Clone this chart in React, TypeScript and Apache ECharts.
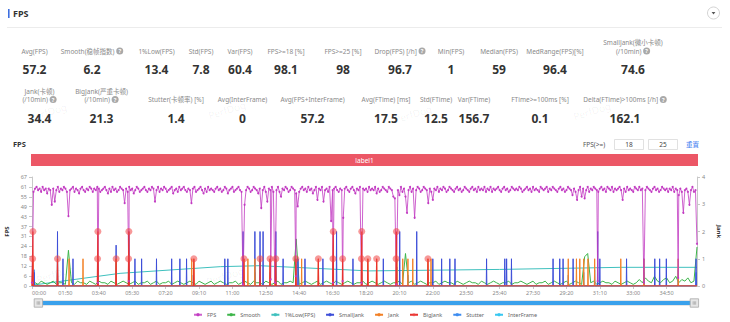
import React, { useEffect, useRef } from "react";
import * as echarts from "echarts";

// ---------- data ----------
const X_MAX = 2190; // seconds
const X_STEP = 110; // seconds between time labels
const FPS_STEP = 5; // seconds between FPS samples
const SMOOTH_STEP = 10; // seconds between Smooth samples

const FPS = [
  2, 58, 60, 61, 59, 60, 58, 61, 59, 60, 57, 60, 59, 50, 60, 52, 59, 61, 58, 60,
  59, 61, 60, 58, 43, 59, 60, 61, 58, 60, 59, 57, 60, 61, 59, 58, 60, 59, 61, 60,
  58, 60, 59, 61, 60, 58, 59, 60, 61, 59, 57, 60, 58, 61, 59, 60, 58, 59, 61, 60,
  59, 51, 60, 58, 61, 59, 60, 57, 59, 61, 60, 58, 59, 60, 61, 59, 58, 60, 59, 61,
  60, 52, 59, 61, 58, 60, 59, 61, 60, 58, 59, 60, 61, 57, 59, 60, 58, 61, 59, 60,
  61, 59, 58, 60, 59, 51, 60, 61, 58, 59, 60, 61, 59, 57, 60, 58, 61, 59, 60, 59,
  58, 60, 61, 59, 60, 58, 59, 61, 60, 57, 59, 60, 61, 58, 59, 60, 61, 59, 58, 60,
  50, 59, 61, 60, 58, 59, 61, 60, 59, 57, 60, 48, 59, 61, 58, 52, 60, 59, 61, 58,
  60, 59, 61, 58, 55, 60, 59, 61, 60, 58, 59, 61, 60, 59, 57, 49, 58, 60, 61, 59,
  60, 58, 61, 59, 60, 57, 59, 61, 53, 60, 59, 61, 52, 59, 60, 58, 61, 40, 59, 60,
  61, 59, 58, 60, 59, 42, 60, 61, 59, 58, 60, 61, 59, 57, 60, 59, 61, 58, 60, 59,
  60, 58, 61, 59, 60, 59, 61, 57, 60, 58, 59, 61, 60, 59, 58, 61, 60, 59, 55, 54,
  60, 59, 56, 61, 58, 60, 55, 45, 59, 61, 58, 60, 42, 59, 61, 60, 58, 59, 61, 60,
  59, 51, 60, 58, 53, 60, 59, 61, 58, 60, 59, 61, 60, 58, 59, 61, 60, 59, 58, 60,
  61, 59, 60, 58, 59, 61, 60, 59, 58, 60, 61, 59, 60, 58, 61, 59, 60, 59, 61, 58,
  60, 59, 61, 58, 60, 59, 60, 61, 59, 58, 60, 61, 59, 60, 58, 59, 61, 60, 59, 60,
  59, 61, 60, 58, 59, 60, 61, 59, 60, 58, 61, 59, 60, 59, 58, 61, 60, 59, 60, 61,
  58, 60, 59, 61, 60, 59, 58, 60, 61, 59, 60, 58, 59, 61, 60, 59, 56, 60, 58, 53,
  59, 61, 55, 60, 54, 59, 61, 58, 60, 59, 61, 60, 59, 58, 60, 61, 59, 60, 58, 61,
  60, 59, 61, 58, 60, 59, 60, 61, 59, 53, 60, 58, 61, 59, 60, 59, 58, 61, 60, 59,
  61, 59, 60, 58, 59, 61, 60, 59, 58, 60, 61, 59, 60, 58, 59, 61, 60, 59, 60, 58,
  60, 59, 61, 58, 60, 59, 56, 60, 58, 45, 59, 60, 58, 50, 59, 61, 58, 59, 26,
];

// deep FPS drops [second, fps]
const FPS_DROPS = [
  [217, 2], [319, 3], [695, 1], [786, 4], [800, 2], [869, 6], [991, 2],
  [1023, 3], [1085, 2], [1200, 1], [1863, 3], [2015, 2], [2128, 5],
];

const SMOOTH = [
  0, 2, 1, 3, 2, 1, 2, 3, 1, 2, 2, 1, 22, 2, 1, 3, 2, 2, 1, 3,
  2, 1, 3, 2, 2, 1, 3, 2, 1, 2, 3, 2, 1, 2, 3, 1, 2, 2, 3, 1,
  2, 3, 1, 2, 2, 3, 1, 2, 3, 2, 1, 2, 3, 2, 1, 3, 2, 1, 2, 3,
  1, 2, 3, 2, 1, 2, 2, 3, 1, 2, 3, 2, 1, 3, 2, 2, 1, 3, 2, 1,
  2, 3, 1, 2, 2, 3, 2, 29, 1, 2, 3, 2, 1, 2, 3, 1, 2, 3, 2, 1,
  3, 2, 1, 2, 3, 2, 1, 2, 2, 3, 1, 2, 3, 2, 1, 2, 3, 2, 1, 2,
  2, 3, 1, 20, 2, 3, 1, 2, 3, 2, 1, 2, 2, 3, 1, 2, 3, 2, 2, 1,
  3, 2, 1, 2, 3, 2, 2, 1, 3, 2, 1, 2, 3, 2, 1, 2, 2, 3, 1, 2,
  2, 3, 2, 1, 2, 3, 1, 2, 2, 3, 1, 2, 3, 2, 1, 2, 3, 1, 2, 3,
  2, 1, 18, 20, 2, 3, 1, 2, 3, 2, 2, 1, 3, 2, 1, 2, 3, 2, 1, 2,
  4, 2, 5, 3, 2, 6, 3, 2, 4, 5, 2, 3, 6, 2, 4, 3, 5, 2, 3, 24,
];

const LOW1 = [
  [0, 0.5], [290, 7.8], [620, 11.9], [750, 12.5], [1110, 9.3],
  [1540, 10.2], [1940, 11.5], [2190, 11.5],
];

const SMALL_JANK = [
  [7, 0.5], [84, 2], [102, 1], [135, 1], [217, 1], [277, 1.5], [319, 2], [339, 1],
  [361, 1], [410, 1], [460, 1], [487, 1], [509, 1], [635, 1], [645, 1], [695, 2],
  [734, 2], [751, 2], [761, 2], [803, 2], [827, 1], [876, 1], [899, 1], [958, 1],
  [1003, 2], [1057, 1], [1157, 1], [1211, 2], [1267, 2], [1320, 1], [1349, 1],
  [1376, 1], [1393, 1], [1497, 1], [1557, 1], [1563, 1], [1579, 1], [1716, 1],
  [1738, 1], [1749, 1], [1782, 1], [1863, 2], [1870, 1], [1958, 1], [2015, 1],
  [2051, 1], [2067, 1], [2089, 1], [2187, 1],
];

const JANK = [
  [3, 1], [84, 1], [122, 1], [168, 1], [217, 1], [277, 1], [319, 1], [526, 1],
  [533, 1], [698, 1], [711, 1], [734, 1], [784, 1], [800, 1], [869, 1], [888, 1],
  [943, 1], [992, 1], [1086, 1], [1106, 1], [1135, 1], [1202, 1], [1221, 1],
  [1238, 1], [1254, 1], [1304, 1], [1314, 1], [1766, 1], [1793, 1], [1804, 1],
  [1817, 1], [1831, 1], [1853, 1], [1939, 1], [2015, 1], [2128, 1],
];

const BIG_JANK = [
  [2, 1], [3, 2], [84, 1], [216, 1], [217, 2], [277, 1], [318, 1], [319, 2],
  [533, 1], [698, 1], [751, 1], [784, 1], [803, 1], [869, 1], [943, 1], [991, 1],
  [992, 2], [1023, 1], [1085, 1], [1086, 2], [1106, 1], [1135, 1], [1199, 1],
  [1200, 2], [1304, 1],
];

const STUTTER = [
  [7, 0.6], [84, 0.5], [217, 0.7], [319, 0.6], [526, 0.4], [695, 0.6], [734, 0.5],
  [784, 0.5], [869, 0.8], [992, 0.6], [1086, 0.5], [1202, 0.7], [1238, 0.4],
  [1304, 0.5], [1766, 0.4], [1817, 0.5], [1853, 0.6], [2015, 0.5], [2128, 0.6],
  [2187, 0.5],
];

const INTER_FRAME = [[0, 0], [2190, 0]];

const LEGEND = ["FPS", "Smooth", "1%Low(FPS)", "SmallJank", "Jank", "BigJank", "Stutter", "InterFrame"];

const ROW1_LABELS = [
  ["Avg(FPS)"], ["Smooth(稳帧指数)"], ["1%Low(FPS)"], ["Std(FPS)"], ["Var(FPS)"],
  ["FPS>=18 [%]"], ["FPS>=25 [%]"], ["Drop(FPS) [/h]"], ["Min(FPS)"], ["Median(FPS)"],
  ["MedRange(FPS)[%]"], ["SmallJank(微小卡顿)", "(/10min)"],
];
const ROW1_HELP = [false, true, false, false, false, false, false, true, false, false, false, true];
const ROW1_VALUES = ["57.2", "6.2", "13.4", "7.8", "60.4", "98.1", "98", "96.7", "1", "59", "96.4", "74.6"];

const ROW2_LABELS = [
  ["Jank(卡顿)", "(/10min)"], ["BigJank(严重卡顿)", "(/10min)"], ["Stutter(卡顿率) [%]"],
  ["Avg(InterFrame)"], ["Avg(FPS+InterFrame)"], ["Avg(FTime) [ms]"], ["Std(FTime)"],
  ["Var(FTime)"], ["FTime>=100ms [%]"], ["Delta(FTime)>100ms [/h]"],
];
const ROW2_HELP = [true, true, false, false, false, false, false, false, false, true];
const ROW2_VALUES = ["34.4", "21.3", "1.4", "0", "57.2", "17.5", "12.5", "156.7", "0.1", "162.1"];

const FPS_THRESHOLDS = ["18", "25"];

// ---------- layout ----------
const ROW1_X = [34.5, 92, 156.5, 201, 240, 286, 343, 400, 451, 499, 555, 633];
const ROW2_X = [39.5, 101.5, 176, 242.5, 312.5, 386, 436, 474, 540, 625];
const FONT = "'Noto Sans', 'Noto Sans CJK SC', sans-serif";

const C = {
  fps: "#C23BC2",
  smooth: "#3DB54A",
  low: "#3FC0BE",
  small: "#3E4FD8",
  jank: "#F28026",
  big: "#E8322E",
  stutter: "#3D8CF0",
  inter: "#38C7F0",
};

function pad(n: number) {
  return n < 10 ? "0" + n : "" + n;
}
function fmtTime(v: number) {
  const m = Math.floor(v / 60);
  const s = Math.round(v % 60);
  return pad(m) + ":" + pad(s);
}

function sampled(values: number[], step: number, extra: number[][] = []) {
  const map = new Map<number, number>();
  values.forEach((v, i) => map.set(i * step, v));
  extra.forEach(([t, v]) => map.set(t, v));
  return Array.from(map.entries()).sort((a, b) => a[0] - b[0]).map(([t, v]) => [t, v]);
}

function spikes(events: number[][]) {
  const val = new Map<number, number>();
  events.forEach(([t, v]) => val.set(t, v));
  const times = new Set<number>([0, X_MAX]);
  events.forEach(([t]) => {
    times.add(Math.max(0, t - 1));
    times.add(t);
    times.add(Math.min(X_MAX, t + 1));
  });
  return Array.from(times).sort((a, b) => a - b).map((t) => [t, val.get(t) ?? 0]);
}

function helpRich() {
  return {
    q: {
      backgroundColor: "#a9a9a9",
      borderRadius: 3.5,
      width: 7,
      height: 7,
      lineHeight: 7,
      align: "center",
      verticalAlign: "middle",
      fill: "#fff",
      color: "#fff",
      fontSize: 5.5,
      fontWeight: "bold",
      fontFamily: FONT,
    },
  };
}

function statGraphics(labels: string[][], help: boolean[], values: string[], xs: number[], labelY: number, valueY: number) {
  const out: any[] = [];
  labels.forEach((lines, i) => {
    lines.forEach((line, j) => {
      const isLast = j === lines.length - 1;
      const y = labelY - (lines.length - 1 - j) * 8.5;
      out.push({
        type: "text",
        x: xs[i],
        y,
        silent: true,
        style: {
          text: line + (help[i] && isLast ? " {q|?}" : ""),
          fill: "#8a8a8a",
          fontSize: 6.5,
          fontFamily: FONT,
          align: "center",
          verticalAlign: "middle",
          textAlign: "center",
          textVerticalAlign: "middle",
          rich: helpRich(),
        },
      });
    });
    out.push({
      type: "text",
      x: xs[i],
      y: valueY,
      silent: true,
      style: {
        text: values[i],
        fill: "#333",
        fontSize: 12,
        fontWeight: "bold",
        fontFamily: FONT,
        align: "center",
        verticalAlign: "middle",
        textAlign: "center",
        textVerticalAlign: "middle",
      },
    });
  });
  return out;
}

function buildOption() {
  const graphics: any[] = [];
  // watermarks
  [[48, 112], [227, 110], [413, 114], [592, 111], [55, 274], [225, 276]].forEach(([x, y]) => {
    graphics.push({
      type: "text", x, y, rotation: 0.3, silent: true, z: -10,
      style: { text: "PerfDog", fill: "rgba(0,0,0,0.05)", fontSize: 10, fontFamily: FONT, align: "center", verticalAlign: "middle", textAlign: "center", textVerticalAlign: "middle" },
    });
  });
  // header
  graphics.push({ type: "rect", silent: true, shape: { x: 8, y: 9, width: 1.6, height: 9 }, style: { fill: "#3E6FE0" } });
  graphics.push({
    type: "text", x: 13, y: 13.5, silent: true,
    style: { text: "FPS", fill: "#333", fontSize: 9, fontWeight: "bold", fontFamily: FONT, align: "left", verticalAlign: "middle", textAlign: "left", textVerticalAlign: "middle" },
  });
  graphics.push({ type: "line", silent: true, shape: { x1: 7, y1: 27.5, x2: 722, y2: 27.5 }, style: { stroke: "#ececec", lineWidth: 1 } });
  graphics.push({ type: "circle", silent: true, shape: { cx: 713.5, cy: 13, r: 6 }, style: { fill: "#fff", stroke: "#c8c8c8", lineWidth: 0.8 } });
  graphics.push({ type: "polygon", silent: true, shape: { points: [[711.6, 12], [715.4, 12], [713.5, 14.4]] }, style: { fill: "#555" } });

  graphics.push(...statGraphics(ROW1_LABELS, ROW1_HELP, ROW1_VALUES, ROW1_X, 51, 69));
  graphics.push(...statGraphics(ROW2_LABELS, ROW2_HELP, ROW2_VALUES, ROW2_X, 99.5, 118));

  // chart header
  graphics.push({
    type: "text", x: 13, y: 144, silent: true,
    style: { text: "FPS", fill: "#333", fontSize: 7.5, fontWeight: "bold", fontFamily: FONT, align: "left", verticalAlign: "middle", textAlign: "left", textVerticalAlign: "middle" },
  });
  graphics.push({
    type: "text", x: 583, y: 144, silent: true,
    style: { text: "FPS(>=)", fill: "#555", fontSize: 6.5, fontFamily: FONT, align: "left", verticalAlign: "middle", textAlign: "left", textVerticalAlign: "middle" },
  });
  [614.5, 648.5].forEach((bx, i) => {
    graphics.push({ type: "rect", silent: true, shape: { x: bx, y: 139.5, width: 29, height: 10 }, style: { fill: "#fff", stroke: "#d9d9d9", lineWidth: 0.8 } });
    graphics.push({
      type: "text", x: bx + 14.5, y: 144.5, silent: true,
      style: { text: FPS_THRESHOLDS[i], fill: "#444", fontSize: 6.5, fontFamily: FONT, align: "center", verticalAlign: "middle", textAlign: "center", textVerticalAlign: "middle" },
    });
  });
  graphics.push({
    type: "text", x: 692.5, y: 144, silent: true,
    style: { text: "重置", fill: "#3B7BF0", fontSize: 6.5, fontFamily: FONT, align: "center", verticalAlign: "middle", textAlign: "center", textVerticalAlign: "middle" },
  });
  graphics.push({ type: "rect", silent: true, shape: { x: 31, y: 154, width: 667, height: 12 }, style: { fill: "#EC5766" } });
  graphics.push({
    type: "text", x: 364.5, y: 160, silent: true,
    style: { text: "label1", fill: "#fff", fontSize: 6.5, fontFamily: FONT, align: "center", verticalAlign: "middle", textAlign: "center", textVerticalAlign: "middle" },
  });

  const axisLabel = { fontSize: 5.5, color: "#888", fontFamily: FONT };
  const lineBase = { type: "line", silent: true, emphasis: { disabled: true }, animation: false };

  return {
    animation: false,
    textStyle: { fontFamily: FONT },
    graphic: graphics,
    grid: { left: 32, right: 33, top: 177, height: 109, containLabel: false, outerBoundsMode: "none" },
    legend: {
      data: LEGEND,
      top: 307,
      left: "center",
      itemWidth: 8,
      itemHeight: 4,
      itemGap: 10,
      textStyle: { fontSize: 5.5, color: "#666", fontFamily: FONT },
    },
    dataZoom: [
      {
        type: "slider",
        xAxisIndex: 0,
        start: 0,
        end: 100,
        left: 36,
        right: 36,
        top: 300,
        height: 6,
        filterMode: "none",
        showDetail: false,
        showDataShadow: false,
        brushSelect: false,
        moveHandleSize: 0,
        fillerColor: "#3AA1EC",
        backgroundColor: "#fff",
        borderColor: "#e6e6e6",
        handleIcon: "path://M0,0H10V10H0ZM3.5,3V7M5,3V7M6.5,3V7",
        handleSize: "140%",
        handleStyle: { color: "#e6e6e6", borderColor: "#a8a8a8", borderWidth: 0.8 },
      },
    ],
    xAxis: {
      type: "value",
      min: 0,
      max: X_MAX,
      interval: X_STEP,
      axisLine: { show: true, onZero: false, lineStyle: { color: "#c8c8c8" } },
      axisTick: { show: true, length: 3, lineStyle: { color: "#c8c8c8" } },
      axisLabel: { ...axisLabel, margin: 4, showMaxLabel: false, alignMinLabel: "left", formatter: fmtTime },
      splitLine: { show: false },
    },
    yAxis: [
      {
        type: "value",
        min: 0,
        max: 67.1,
        interval: 6.1,
        name: "FPS",
        nameLocation: "middle",
        nameGap: 16,
        nameTextStyle: { fontSize: 6, fontWeight: "bold", color: "#333", fontFamily: FONT },
        axisLine: { show: true, lineStyle: { color: "#c8c8c8" } },
        axisTick: { show: true, length: 3, lineStyle: { color: "#c8c8c8" } },
        axisLabel: { ...axisLabel, margin: 5, formatter: (v: number) => String(Math.round(v)) },
        splitLine: { show: false },
      },
      {
        type: "value",
        min: 0,
        max: 4,
        interval: 1,
        position: "right",
        name: "Jank",
        nameLocation: "middle",
        nameGap: 14,
        nameRotate: -90,
        nameTextStyle: { fontSize: 6, fontWeight: "bold", color: "#333", fontFamily: FONT },
        axisLine: { show: true, lineStyle: { color: "#c8c8c8" } },
        axisTick: { show: true, length: 3, lineStyle: { color: "#c8c8c8" } },
        axisLabel: { ...axisLabel, margin: 5 },
        splitLine: { show: false },
      },
    ],
    series: [
      { ...lineBase, name: "InterFrame", yAxisIndex: 1, data: INTER_FRAME, symbol: "none", color: C.inter, lineStyle: { width: 1, color: C.inter } },
      { ...lineBase, name: "1%Low(FPS)", yAxisIndex: 0, data: LOW1, symbol: "none", color: C.low, lineStyle: { width: 1, color: C.low } },
      { ...lineBase, name: "Smooth", yAxisIndex: 0, data: sampled(SMOOTH, SMOOTH_STEP), symbol: "none", color: C.smooth, lineStyle: { width: 1, color: C.smooth } },
      { ...lineBase, name: "Stutter", yAxisIndex: 1, data: spikes(STUTTER), symbol: "none", color: C.stutter, lineStyle: { width: 1, color: C.stutter } },
      { ...lineBase, name: "SmallJank", yAxisIndex: 1, data: spikes(SMALL_JANK), symbol: "none", color: C.small, lineStyle: { width: 1, color: C.small } },
      { ...lineBase, name: "Jank", yAxisIndex: 1, data: spikes(JANK), symbol: "none", color: C.jank, lineStyle: { width: 1, color: C.jank } },
      {
        ...lineBase, name: "FPS", yAxisIndex: 0, data: sampled(FPS, FPS_STEP, FPS_DROPS), symbol: "circle", symbolSize: 2, showSymbol: true,
        color: C.fps, itemStyle: { color: C.fps }, lineStyle: { width: 1, color: C.fps, opacity: 0.8 },
      },
      {
        ...lineBase, name: "BigJank", yAxisIndex: 1, data: spikes(BIG_JANK), symbol: "circle", showSymbol: true,
        symbolSize: (v: number[]) => (v[1] > 0 ? 7 : 0),
        color: C.big, itemStyle: { color: "rgba(240,70,70,0.55)" }, lineStyle: { width: 1.2, color: C.big },
      },
    ],
  };
}

export default function App() {
  const ref = useRef<HTMLDivElement>(null);
  useEffect(() => {
    const chart = echarts.init(ref.current as HTMLDivElement, null, { renderer: "svg", width: 730, height: 322 });
    chart.setOption(buildOption() as any);
    return () => chart.dispose();
  }, []);
  return (
    <div
      ref={ref}
      style={{ position: "absolute", left: 0, top: 0, width: 730, height: 322, background: "#fff" }}
    />
  );
}
